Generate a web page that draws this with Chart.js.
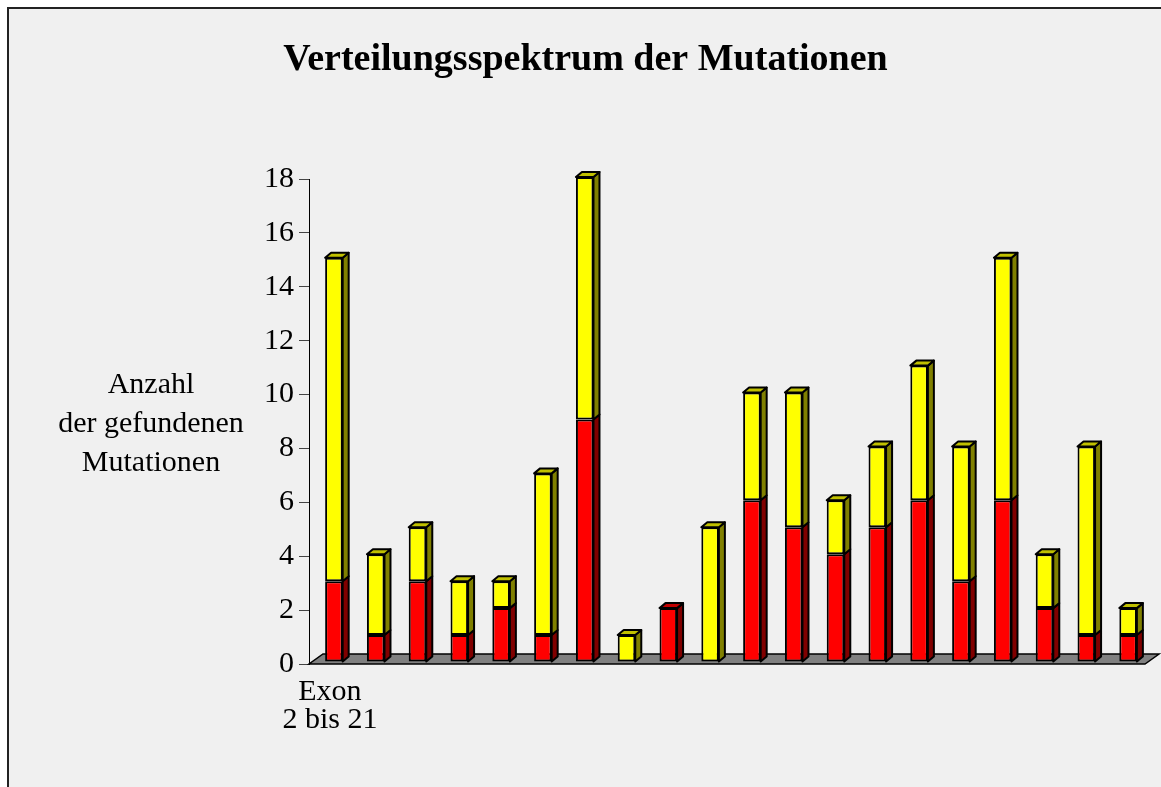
<!DOCTYPE html>
<html>
<head>
<meta charset="utf-8">
<script src="https://cdn.jsdelivr.net/npm/chart.js@4"></script>
<style>
  html, body { margin: 0; padding: 0; background: #fff; overflow: hidden; }
  #frame {
    position: absolute; left: 7px; top: 7px; width: 1200px; height: 900px;
    border-left: 2px solid #222; border-top: 2px solid #222; background: #f0f0f0;
  }
  #chart { position: absolute; left: 0; top: 0; }
</style>
</head>
<body>
<div id="frame"></div>
<canvas id="chart" width="1161" height="787"></canvas>
<script>
// Exons 2 to 21
const exons = ['2', '3', '4', '5', '6', '7', '8', '9', '10', '11',
               '12', '13', '14', '15', '16', '17', '18', '19', '20', '21'];
const redCounts    = [3, 1, 3, 1, 2, 1, 9, 0, 2, 0, 6, 5, 4, 5, 6, 3, 6, 2, 1, 1];
const yellowCounts = [12, 3, 2, 2, 1, 6, 9, 1, 0, 5, 4, 5, 2, 3, 5, 5, 9, 2, 7, 1];
const yMin = 0, yMax = 18, yStep = 2;
const xLabel = ['Exon', '2 bis 21'];
const yTitle = ['Anzahl', 'der gefundenen', 'Mutationen'];

const serif = "'Liberation Serif', 'Times New Roman', serif";

// 3D look: floor, bar sides and tops
const DEPTH_X = 6, DEPTH_Y = 5;      // bar depth
const FLOOR_X = 14, FLOOR_Y = 10;    // floor depth
const SHIFT_X = 4, SHIFT_Y = -2;     // bars sit in the middle of the floor

const sideColors = ['#800000', '#808000'];
const topColors = ['#c00000', '#c0c000'];

const bars3d = {
  id: 'bars3d',
  beforeDatasetsDraw(chart) {
    const { ctx, chartArea } = chart;
    const y0 = chart.scales.y.getPixelForValue(0);
    ctx.save();
    ctx.beginPath();
    ctx.moveTo(chartArea.left, y0);
    ctx.lineTo(chartArea.right, y0);
    ctx.lineTo(chartArea.right + FLOOR_X, y0 - FLOOR_Y);
    ctx.lineTo(chartArea.left + FLOOR_X, y0 - FLOOR_Y);
    ctx.closePath();
    ctx.fillStyle = '#808080';
    ctx.fill();
    ctx.lineWidth = 1.5;
    ctx.strokeStyle = '#000';
    ctx.stroke();
    ctx.restore();

    ctx.save();
    ctx.translate(SHIFT_X, SHIFT_Y);
  },
  afterDatasetsDraw(chart) {
    const { ctx } = chart;
    ctx.lineWidth = 2;
    ctx.strokeStyle = '#000';
    ctx.lineJoin = 'round';
    const n = chart.data.labels.length;
    for (let i = 0; i < n; i++) {
      let topEl = null, topDs = -1;
      chart.data.datasets.forEach((ds, d) => {
        const el = chart.getDatasetMeta(d).data[i];
        const p = el.getProps(['x', 'y', 'base', 'width'], true);
        if (p.base - p.y < 0.5) return;
        const xr = p.x + p.width / 2;
        ctx.beginPath();
        ctx.moveTo(xr, p.y);
        ctx.lineTo(xr + DEPTH_X, p.y - DEPTH_Y);
        ctx.lineTo(xr + DEPTH_X, p.base - DEPTH_Y);
        ctx.lineTo(xr, p.base);
        ctx.closePath();
        ctx.fillStyle = sideColors[d];
        ctx.fill();
        ctx.stroke();
        topEl = p; topDs = d;
      });
      if (topEl) {
        const xl = topEl.x - topEl.width / 2, xr = topEl.x + topEl.width / 2;
        ctx.beginPath();
        ctx.moveTo(xl, topEl.y);
        ctx.lineTo(xl + DEPTH_X, topEl.y - DEPTH_Y);
        ctx.lineTo(xr + DEPTH_X, topEl.y - DEPTH_Y);
        ctx.lineTo(xr, topEl.y);
        ctx.closePath();
        ctx.fillStyle = topColors[topDs];
        ctx.fill();
        ctx.stroke();
      }
    }
    ctx.restore();
  },
  afterDraw(chart) {
    const { ctx, chartArea } = chart;
    ctx.save();
    ctx.font = '30px ' + serif;
    ctx.fillStyle = '#000';
    ctx.textAlign = 'center';
    ctx.textBaseline = 'alphabetic';
    yTitle.forEach((line, k) => {
      ctx.fillText(line, chartArea.left - 158, chartArea.top + 214 + k * 39);
    });
    ctx.restore();
  }
};

new Chart(document.getElementById('chart'), {
  type: 'bar',
  data: {
    labels: exons,
    datasets: [
      {
        label: 'rot',
        data: redCounts,
        backgroundColor: '#ff0000',
      },
      {
        label: 'gelb',
        data: yellowCounts,
        backgroundColor: '#ffff00',
      }
    ]
  },
  options: {
    responsive: false,
    animation: false,
    layout: { padding: { left: 26, right: 16, top: 0, bottom: 0 } },
    datasets: {
      bar: {
        borderColor: '#000',
        borderWidth: 2,
        borderSkipped: false,
        categoryPercentage: 1,
        barPercentage: 0.42,
        clip: false
      }
    },
    plugins: {
      legend: { display: false },
      tooltip: { enabled: false },
      title: {
        display: true,
        text: 'Verteilungsspektrum der Mutationen',
        color: '#000',
        font: { family: serif, size: 38, weight: 'bold', lineHeight: 1.2 },
        padding: { top: 37, bottom: 96.4 }
      }
    },
    scales: {
      x: {
        stacked: true,
        border: { display: false },
        grid: { display: false, drawTicks: false },
        ticks: {
          color: '#000',
          padding: 14,
          maxRotation: 0,
          autoSkip: false,
          font: { family: serif, size: 30, lineHeight: 0.93 },
          callback: (v, i) => (i === 0 ? xLabel : '')
        },
        afterFit: (scale) => { scale.height = 123; }
      },
      y: {
        stacked: true,
        min: yMin,
        max: yMax,
        border: { display: true, color: '#000', width: 1 },
        grid: { drawOnChartArea: false, drawTicks: true, tickLength: 10, color: '#444' },
        ticks: {
          stepSize: yStep,
          color: '#000',
          padding: 5,
          font: { family: serif, size: 30 }
        },
        afterFit: (scale) => { scale.width = 283; }
      }
    }
  },
  plugins: [bars3d]
});
</script>
</body>
</html>
